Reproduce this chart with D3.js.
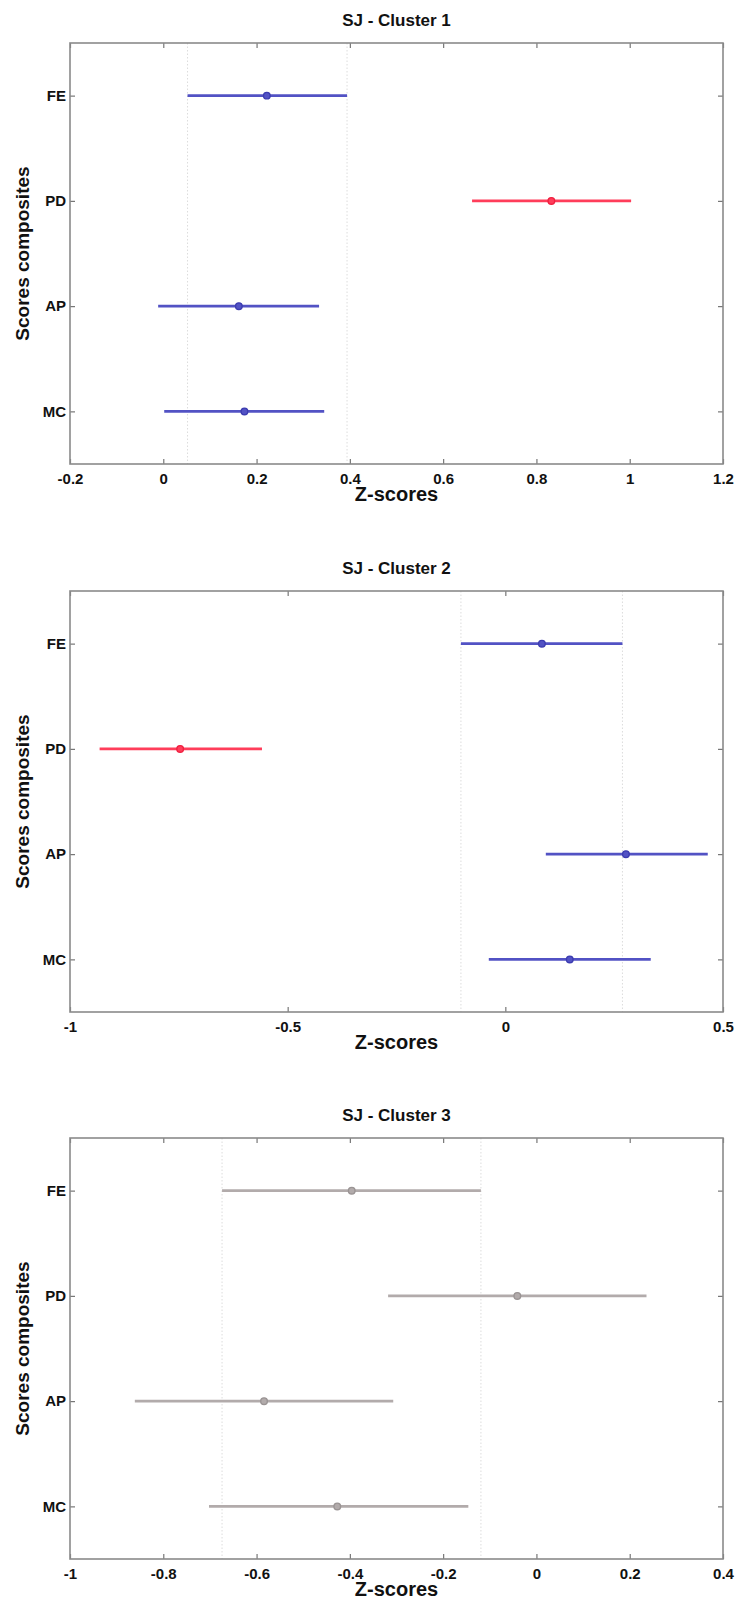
<!DOCTYPE html>
<html>
<head>
<meta charset="utf-8">
<script src="https://cdn.jsdelivr.net/npm/d3@7"></script>
<style>
  body { margin: 0; background: #fff; }
  text { font-family: "Liberation Sans", Arial, sans-serif; font-weight: bold; fill: #111; }
</style>
</head>
<body>
<div id="chart"></div>
<script>
// categories shared by the three panels (top to bottom)
const categories = ['FE', 'PD', 'AP', 'MC'];

// cluster 1
const cluster1Ticks = [-0.2, 0, 0.2, 0.4, 0.6, 0.8, 1, 1.2];
const cluster1Lower = [0.052, 0.662, -0.011, 0.002];
const cluster1Means = [0.222, 0.832, 0.162, 0.174];
const cluster1Upper = [0.394, 1.003, 0.334, 0.345];
const cluster1Status = ['ref', 'sig', 'ref', 'ref'];

// cluster 2
const cluster2Ticks = [-1, -0.5, 0, 0.5];
const cluster2Lower = [-0.102, -0.932, 0.093, -0.038];
const cluster2Means = [0.084, -0.747, 0.277, 0.148];
const cluster2Upper = [0.269, -0.559, 0.465, 0.334];
const cluster2Status = ['ref', 'sig', 'ref', 'ref'];

// cluster 3
const cluster3Ticks = [-1, -0.8, -0.6, -0.4, -0.2, 0, 0.2, 0.4];
const cluster3Lower = [-0.674, -0.318, -0.861, -0.702];
const cluster3Means = [-0.396, -0.041, -0.584, -0.427];
const cluster3Upper = [-0.119, 0.236, -0.307, -0.146];
const cluster3Status = ['ns', 'ns', 'ns', 'ns'];

const titles = ['SJ - Cluster 1', 'SJ - Cluster 2', 'SJ - Cluster 3'];

// colours used by multcompare style plots
const lineColor = { ref: '#5252c4', sig: '#ff3d5a', ns: '#b2abab' };
const dotColor = { ref: '#3c3cb0', sig: '#f02040', ns: '#9a9494' };

const width = 736;
const height = 1605;

const svg = d3
  .select('#chart')
  .append('svg')
  .attr('width', width)
  .attr('height', height);

// draws one panel at a vertical offset
function drawPanel(offsetY, title, ticks, lower, means, upper, status) {
  const left = 70, right = 723, top = 43, bottom = 464;

  const g = svg.append('g').attr('transform', 'translate(0,' + offsetY + ')');

  const x = d3
    .scaleLinear()
    .domain([ticks[0], ticks[ticks.length - 1]])
    .range([left, right]);

  const y = d3.scalePoint().domain(categories).range([top, bottom]).padding(0.5);

  const fmt = (d) => String(Math.round(d * 10) / 10);

  // dotted reference lines at the bounds of the first group
  g.selectAll('.ref-line')
    .data([lower[0], upper[0]])
    .join('line')
    .attr('x1', (d) => x(d))
    .attr('x2', (d) => x(d))
    .attr('y1', top)
    .attr('y2', bottom)
    .attr('stroke', '#dcdcdc')
    .attr('stroke-width', 1)
    .attr('stroke-dasharray', '1.5,2');

  // axes, ticks pointing inwards
  const bottomAxis = g
    .append('g')
    .attr('transform', 'translate(0,' + bottom + ')')
    .call(d3.axisBottom(x).tickValues(ticks).tickSizeInner(-5).tickSizeOuter(0).tickPadding(9).tickFormat(fmt));
  bottomAxis.selectAll('text').style('font-size', '15px');

  g.append('g')
    .attr('transform', 'translate(0,' + top + ')')
    .call(d3.axisTop(x).tickValues(ticks).tickSizeInner(-5).tickSizeOuter(0).tickFormat(''));

  const leftAxis = g
    .append('g')
    .attr('transform', 'translate(' + left + ',0)')
    .call(d3.axisLeft(y).tickSizeInner(-5).tickSizeOuter(0).tickPadding(4));
  leftAxis.selectAll('text').style('font-size', '15px');

  g.append('g')
    .attr('transform', 'translate(' + right + ',0)')
    .call(d3.axisRight(y).tickSizeInner(-5).tickSizeOuter(0).tickFormat(''));

  g.selectAll('.domain').remove();
  g.selectAll('.tick line').attr('stroke', '#777').attr('stroke-width', 1.2);

  // box round the plot area
  g.append('rect')
    .attr('x', left)
    .attr('y', top)
    .attr('width', right - left)
    .attr('height', bottom - top)
    .attr('fill', 'none')
    .attr('stroke', '#8a8a8a')
    .attr('stroke-width', 1.6);

  // intervals
  g.selectAll('.interval')
    .data(categories)
    .join('line')
    .attr('class', 'interval')
    .attr('x1', (d, i) => x(lower[i]))
    .attr('x2', (d, i) => x(upper[i]))
    .attr('y1', (d) => y(d))
    .attr('y2', (d) => y(d))
    .attr('stroke', (d, i) => lineColor[status[i]])
    .attr('stroke-width', 2.8);

  // means
  g.selectAll('.mean')
    .data(categories)
    .join('circle')
    .attr('class', 'mean')
    .attr('cx', (d, i) => x(means[i]))
    .attr('cy', (d) => y(d))
    .attr('r', 3.3)
    .attr('fill', (d, i) => lineColor[status[i]])
    .attr('stroke', (d, i) => dotColor[status[i]])
    .attr('stroke-width', 1.4);

  // texts
  g.append('text')
    .attr('x', (left + right) / 2)
    .attr('y', 26)
    .attr('text-anchor', 'middle')
    .style('font-size', '17px')
    .text(title);

  g.append('text')
    .attr('x', (left + right) / 2)
    .attr('y', 501)
    .attr('text-anchor', 'middle')
    .style('font-size', '20px')
    .text('Z-scores');

  g.append('text')
    .attr('transform', 'translate(29,' + (top + bottom) / 2 + ') rotate(-90)')
    .attr('text-anchor', 'middle')
    .style('font-size', '19px')
    .text('Scores composites');
}

drawPanel(0, titles[0], cluster1Ticks, cluster1Lower, cluster1Means, cluster1Upper, cluster1Status);
drawPanel(548, titles[1], cluster2Ticks, cluster2Lower, cluster2Means, cluster2Upper, cluster2Status);
drawPanel(1095, titles[2], cluster3Ticks, cluster3Lower, cluster3Means, cluster3Upper, cluster3Status);
</script>
</body>
</html>
